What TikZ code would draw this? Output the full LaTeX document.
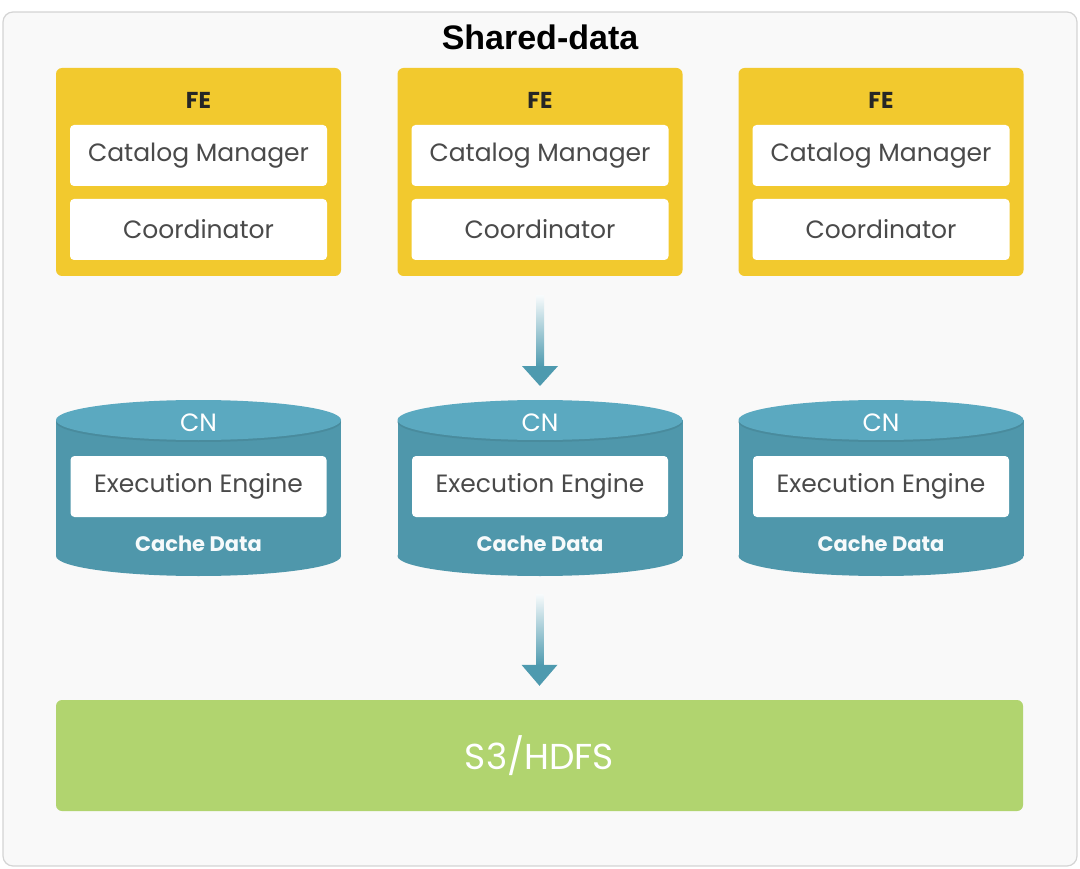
\documentclass[tikz,border=0pt]{standalone}
\usepackage{fontspec}
\setmainfont{Poppins}
\newfontfamily\titlefont{Liberation Sans}
\usepackage{tikz}
\usepackage{xcolor}
\usetikzlibrary{arrows.meta}

\definecolor{panelbg}{HTML}{F9F9F9}
\definecolor{panelline}{HTML}{D4D4D4}
\definecolor{feyellow}{HTML}{F2C92E}
\definecolor{cntop}{HTML}{5BA9C0}
\definecolor{cnbody}{HTML}{4F97AB}
\definecolor{arrowc}{HTML}{4E9AAF}
\definecolor{s3green}{HTML}{B1D46F}
\definecolor{textgray}{HTML}{4A4A4A}

\tikzset{
  febox/.style={fill=feyellow, rounded corners=6pt, minimum width=285pt, minimum height=208pt, inner sep=0pt},
  inbox/.style={fill=white, rounded corners=4pt, minimum width=257pt, minimum height=61pt, inner sep=0pt, text=textgray, font=\fontsize{25}{28}\selectfont},
  felabel/.style={text=black!85, font=\bfseries\fontsize{23}{26}\selectfont},
  cnlabel/.style={text=white, font=\fontsize{25}{28}\selectfont},
  cachelabel/.style={text=white!95!cnbody, font=\bfseries\fontsize{21}{24}\selectfont}
}

\begin{document}
\begin{tikzpicture}[x=1pt, y=-1pt]
  \useasboundingbox (0,0) rectangle (1080,869);
  % outer panel
  \draw[panelline, fill=panelbg, rounded corners=10pt, line width=1.2pt] (3,12) rectangle (1077,866);
  \node[font=\titlefont\bfseries\fontsize{34}{38}\selectfont] (title) at (540,37) {Shared-data};

  % FE row
  \foreach \i/\x in {1/198.5, 2/540, 3/881} {
    \node[febox] (fe\i) at (\x,172) {};
    \node[felabel] (fel\i) at (\x,100) {FE};
    \node[inbox] (cat\i) at (\x,155.5) {Catalog Manager};
    \node[inbox] (coord\i) at (\x,229.5) {Coordinator};
  }

  % CN row (cylinders)
  \foreach \i/\x in {1/198.5, 2/540, 3/881} {
    \fill[cnbody] (\x-142.5,420) rectangle (\x+142.5,556);
    \fill[cnbody] (\x,556) ellipse [x radius=142.5, y radius=20];
    \fill[cnbody!92!black] (\x,422) ellipse [x radius=142.5, y radius=20];
    \fill[cntop] (\x,420) ellipse [x radius=142.5, y radius=20];
    \coordinate (cyl\i) at (\x,400);
    \coordinate (cylb\i) at (\x,576);
    \node[cnlabel] (cn\i) at (\x,423) {CN};
    \node[inbox, minimum width=256pt] (exec\i) at (\x,486.5) {Execution Engine};
    \node[cachelabel] (cache\i) at (\x,544) {Cache Data};
  }

  % storage
  \node[fill=s3green, rounded corners=6pt, minimum width=967pt, minimum height=111pt, inner sep=0pt,
        text=white, font=\fontsize{36}{40}\selectfont] (s3) at (539.5,755.5) {S3/HDFS};

  % arrow FE -> CN
  \shade[top color=arrowc!4, bottom color=arrowc] ([xshift=-4pt,yshift=-19pt]fe2.south) rectangle ([xshift=4pt,yshift=33pt]cyl2);
  \fill[arrowc] ([xshift=-18pt,yshift=34pt]cyl2) -- ([xshift=18pt,yshift=34pt]cyl2) -- ([yshift=14pt]cyl2) -- cycle;

  % arrow CN -> S3
  \shade[top color=arrowc!4, bottom color=arrowc] ([xshift=-4pt,yshift=-18pt]cylb2) rectangle ([xshift=4pt,yshift=34pt]s3.north);
  \fill[arrowc] ([xshift=-18pt,yshift=35pt]s3.north) -- ([xshift=18pt,yshift=35pt]s3.north) -- ([yshift=14pt]s3.north) -- cycle;
\end{tikzpicture}
\end{document}
